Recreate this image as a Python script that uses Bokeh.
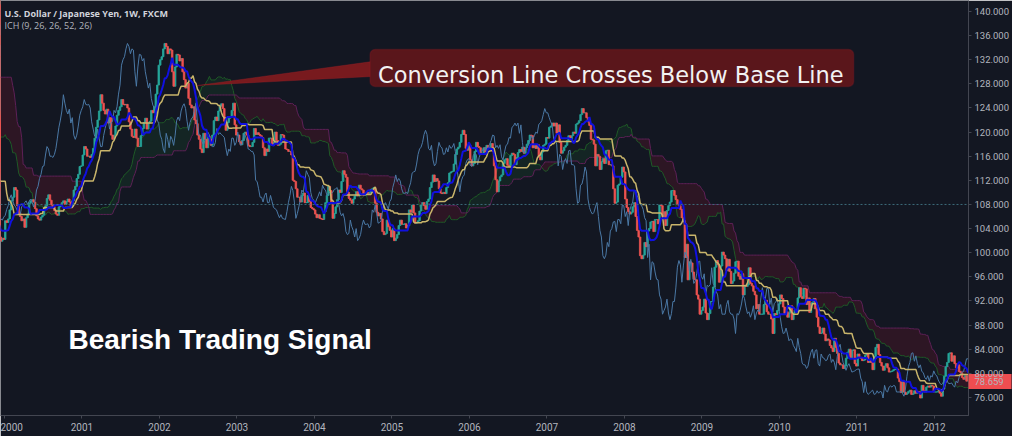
import numpy as np
import pandas as pd
from bokeh.plotting import figure
from bokeh.models import (Range1d, FixedTicker, NumeralTickFormatter, Label,
                          BoxAnnotation, PolyAnnotation, Span)
from bokeh.embed import file_html
from bokeh.resources import INLINE

# ---------------- data: weekly closes USD/JPY ----------------
c1998 = [139.5, 141.0, 137.8, 140.0, 140.6, 141.2, 140.5, 142.5, 144.0, 145.2, 146.8, 145.0, 142.5,
         138.5, 134.5, 134.6, 136.0, 132.5, 120.2, 117.0, 116.3, 116.0, 119.6, 120.8, 121.4, 122.8,
         118.6, 117.2, 116.4, 113.5]
c1999 = [113.0, 111.4, 113.9, 113.5, 116.0, 115.0, 116.5, 120.4, 119.8, 121.5, 119.3, 120.0, 119.6,
         119.8, 119.0, 120.2, 119.3, 119.8, 122.0, 122.4, 123.5, 121.5, 120.8, 118.3, 120.8, 121.5,
         121.2, 121.8, 117.8, 115.2, 115.5, 114.5, 113.3, 110.5, 110.8, 110.3, 107.5, 105.8, 106.2,
         107.2, 106.8, 105.6, 104.6, 104.9, 105.0, 104.6, 105.4, 102.2, 102.5, 102.6, 101.9, 102.4, 102.2]
c2000 = [105.3, 105.0, 105.6, 107.1, 108.6, 109.2, 110.8, 110.4, 107.8, 106.6, 106.0, 105.3, 105.6,
         104.2, 105.8, 106.4, 108.2, 108.6, 108.8, 108.4, 107.3, 106.1, 105.6, 105.4, 105.9, 106.2,
         107.2, 107.8, 109.0, 109.6, 108.7, 107.9, 107.6, 107.0, 106.4, 106.2, 107.6, 107.9, 108.3,
         108.6, 108.0, 108.5, 108.9, 108.4, 107.6, 108.6, 110.4, 111.0, 112.3, 113.0, 114.3, 114.4]
c2001 = [116.2, 117.6, 117.2, 116.0, 116.0, 115.8, 116.3, 117.3, 119.0, 120.8, 122.0, 123.5, 126.2,
         124.8, 123.6, 123.0, 123.8, 121.5, 122.4, 119.5, 118.8, 119.5, 121.0, 122.8, 123.6, 124.2,
         125.4, 124.6, 124.5, 124.6, 124.0, 121.7, 120.5, 119.3, 119.1, 120.5, 119.0, 117.6, 117.6,
         119.4, 120.6, 121.6, 122.3, 120.5, 121.5, 121.8, 123.6, 123.2, 124.2, 126.3, 127.8, 131.1]
c2002 = [132.0, 132.5, 133.8, 134.7, 134.2, 133.0, 133.8, 133.6, 130.0, 127.6, 130.8, 132.9, 132.8,
         131.8, 132.2, 130.0, 128.7, 127.3, 128.1, 125.6, 124.5, 124.0, 124.2, 122.0, 121.4, 119.5,
         118.8, 117.2, 116.6, 119.8, 118.8, 117.4, 119.3, 118.8, 117.8, 119.5, 121.9, 122.5, 121.9,
         123.5, 124.3, 124.7, 123.9, 121.8, 120.3, 121.6, 122.3, 122.5, 123.6, 124.8, 121.2, 119.5]
c2003 = [119.5, 118.4, 117.9, 118.6, 119.8, 120.0, 119.5, 117.8, 117.6, 117.6, 118.3, 120.6, 119.6,
         119.9, 119.6, 119.4, 119.1, 117.4, 116.1, 117.2, 116.8, 119.0, 119.0, 117.8, 118.3, 120.0,
         118.6, 117.8, 118.0, 119.6, 119.5, 118.7, 117.2, 117.1, 116.8, 116.8, 116.2, 112.0, 111.8,
         110.6, 109.2, 109.2, 108.4, 109.5, 109.9, 108.3, 108.3, 109.5, 108.5, 107.5, 107.3, 107.1]
c2004 = [106.4, 105.8, 106.3, 105.7, 105.6, 105.5, 106.8, 108.3, 109.5, 111.0, 110.3, 108.4, 105.7,
         106.5, 107.6, 108.8, 110.4, 110.0, 111.8, 113.6, 113.0, 112.5, 110.0, 109.0, 108.7, 108.2,
         108.9, 109.4, 110.1, 109.4, 111.2, 110.6, 110.4, 109.5, 109.8, 110.0, 109.8, 110.0, 110.5,
         110.6, 110.8, 108.2, 106.7, 106.1, 106.5, 105.6, 103.5, 103.0, 103.2, 105.4, 104.3, 103.7, 102.6]
c2005 = [104.0, 102.0, 102.4, 103.0, 104.5, 105.4, 104.7, 104.7, 104.8, 104.1, 104.5, 107.1, 106.7,
         107.9, 106.6, 104.9, 105.0, 105.3, 106.9, 107.9, 108.3, 107.8, 107.2, 108.5, 108.9, 110.8,
         111.7, 112.9, 111.8, 112.3, 111.9, 110.6, 109.9, 109.8, 110.0, 109.8, 110.8, 111.6, 113.2,
         113.4, 113.5, 114.7, 116.3, 117.2, 117.5, 118.3, 119.6, 120.3, 119.6, 117.3, 117.0, 117.8]
c2006 = [115.4, 114.4, 114.8, 116.8, 118.3, 117.6, 117.4, 116.3, 116.4, 117.4, 116.7, 117.8, 117.3,
         117.5, 118.1, 116.8, 114.4, 112.1, 110.1, 111.9, 112.6, 112.9, 114.8, 115.4, 115.6, 114.5,
         114.3, 116.1, 116.5, 116.3, 114.6, 115.8, 116.6, 117.1, 116.8, 117.5, 116.5, 117.4, 118.0,
         118.6, 119.5, 119.4, 117.4, 117.8, 117.3, 117.9, 115.9, 115.4, 116.7, 117.8, 118.0, 119.1]
c2007 = [119.0, 120.8, 121.0, 121.5, 121.0, 121.5, 119.8, 121.2, 118.3, 116.5, 116.9, 117.5, 117.8,
         118.6, 119.4, 118.8, 119.4, 120.0, 119.8, 121.3, 121.5, 121.9, 122.9, 123.9, 123.2, 123.2,
         122.4, 121.7, 121.1, 118.8, 118.7, 118.0, 114.4, 116.3, 116.0, 113.8, 115.1, 115.6, 114.8,
         116.9, 117.0, 114.6, 114.6, 114.4, 110.6, 108.2, 108.4, 111.2, 111.4, 112.5, 114.2, 113.4]
c2008 = [108.9, 107.5, 106.8, 106.4, 106.7, 107.6, 108.3, 106.0, 103.7, 102.6, 99.5, 99.0, 99.6,
         101.7, 101.0, 103.6, 104.0, 105.1, 105.2, 103.5, 105.5, 105.5, 104.8, 107.9, 107.8, 106.0,
         106.8, 104.5, 107.0, 107.8, 108.4, 110.3, 110.3, 109.5, 108.8, 108.0, 107.8, 107.2, 105.8,
         105.3, 99.2, 101.4, 95.5, 98.5, 98.3, 96.8, 95.6, 95.5, 93.0, 92.3, 89.8, 90.4]
c2009 = [91.0, 92.3, 90.0, 88.9, 89.9, 91.9, 91.9, 94.3, 97.6, 98.7, 98.0, 95.1, 97.8,
         100.1, 99.6, 99.0, 97.0, 98.9, 96.9, 94.9, 95.3, 96.6, 98.5, 98.6, 96.1, 95.6,
         96.5, 93.0, 94.6, 94.4, 94.7, 97.5, 94.9, 94.5, 93.6, 93.0, 90.7, 91.4, 89.8,
         89.8, 89.8, 91.4, 92.1, 90.2, 89.8, 89.8, 89.0, 86.6, 89.9, 89.7, 90.4, 91.5]
c2010 = [93.0, 92.4, 91.0, 89.9, 90.2, 89.3, 90.0, 91.2, 88.9, 90.0, 90.5, 90.2, 92.5,
         94.2, 92.7, 92.4, 94.1, 94.0, 91.4, 92.5, 90.1, 91.6, 91.8, 92.4, 90.7, 89.3,
         87.7, 86.6, 86.7, 87.5, 86.5, 85.4, 85.7, 85.5, 84.6, 84.2, 83.6, 85.8, 84.3,
         83.3, 81.7, 81.4, 81.4, 80.8, 81.2, 82.5, 83.5, 84.0, 82.5, 83.8, 83.9, 81.6, 81.2]
c2011 = [83.2, 82.6, 82.5, 82.1, 82.2, 83.0, 83.2, 81.8, 82.3, 81.8, 80.6, 82.8, 84.3,
         84.8, 83.1, 81.8, 81.2, 80.5, 81.2, 81.6, 80.9, 80.2, 80.3, 80.4, 80.6, 80.7,
         80.7, 79.2, 78.6, 76.8, 78.6, 76.9, 76.5, 76.7, 77.0, 77.2, 76.5, 76.6, 77.1,
         76.7, 77.0, 76.9, 75.9, 78.0, 77.1, 76.9, 77.7, 77.9, 77.7, 78.0, 77.9, 76.9]
c2012 = [76.9, 76.9, 77.0, 76.7, 76.2, 77.4, 79.5, 81.1, 81.8, 83.3, 83.4, 82.0, 82.9,
         81.6, 80.9, 81.4, 80.3, 80.1, 79.3, 79.0, 79.6, 78.7, 79.6, 79.4, 80.4, 79.8,
         79.6, 78.9, 78.4, 78.1, 78.3, 78.9, 78.8, 78.7, 78.3, 78.3, 78.4, 78.0, 77.7,
         78.7, 78.4, 79.3, 79.8, 80.2, 80.3, 81.3, 82.4, 82.4, 82.4, 83.4, 84.3, 85.4]

years = list(range(1998, 2013))
series = [c1998, c1999, c2000, c2001, c2002, c2003, c2004, c2005, c2006, c2007,
          c2008, c2009, c2010, c2011, c2012]
year_ticks = list(range(2000, 2013))
price_ticks = list(range(76, 141, 4))
last_price = 78.659
ich_params = (9, 26, 26, 52, 26)

# ---------------- build bars ----------------
xs, cs = [], []
for yr, arr in zip(years, series):
    n = len(arr)
    for k, v in enumerate(arr):
        if yr == 1998:
            xs.append(1999 - (n - k - 0.5) / 52.0)
        else:
            xs.append(yr + (k + 0.5) / n)
        cs.append(v)
x = np.array(xs)
close = np.array(cs)
openp = np.r_[close[0], close[:-1]]
hi = np.maximum(openp, close)
lo = np.minimum(openp, close)
H = pd.Series(hi)
L = pd.Series(lo)


def mid(n):
    return ((H.rolling(n).max() + L.rolling(n).min()) / 2).to_numpy()


tenkan = mid(ich_params[0])
kijun = mid(ich_params[1])
spanB = mid(ich_params[3])
spanA = (tenkan + kijun) / 2
off = ich_params[4] - 1
N = len(close)
xa = x[off:]
A = spanA[:N - off]
B = spanB[:N - off]
ok = ~np.isnan(B) & ~np.isnan(A)
xa, A, B = xa[ok], A[ok], B[ok]
xl = x[:N - off]
lag = close[off:]


# reference pixel -> data helpers (used only for placing annotations)
def X(px):
    return 2000 + (px - 12) / 77.58


def Y(py):
    return 140 - (py - 19) / 6.03


BG = "#131722"
TXT = "#b2b5be"
TAG = "#ef4d50"

p = figure(width=1012, height=436, output_backend="svg", toolbar_location=None,
           x_range=Range1d(X(8), X(977)), y_range=Range1d(Y(423), Y(8)),
           y_axis_location="right", background_fill_color=BG, border_fill_color=BG,
           min_border_left=0, min_border_top=0, min_border_right=43, min_border_bottom=21)
p.outline_line_color = None
p.xgrid.visible = False
p.ygrid.visible = False

# cloud
p.varea(x=xa, y1=B, y2=np.where(A > B, A, B), fill_color="#1e7d32", fill_alpha=0.14)
p.varea(x=xa, y1=A, y2=np.where(B > A, B, A), fill_color="#a0162e", fill_alpha=0.19)
p.line(xa, A, line_color="#1f5a27", line_width=1)
p.line(xa, B, line_color="#5e2157", line_width=1)

# candles
w = 1.0 / 52
up = close >= openp
dn = ~up
p.vbar(x=x[up], top=close[up], bottom=openp[up], width=w,
       fill_color="#26a69a", line_color="#26a69a", line_width=0.8)
p.vbar(x=x[dn], top=openp[dn], bottom=close[dn], width=w,
       fill_color="#ef5350", line_color="#ef5350", line_width=0.8)

# lines
p.line(xl, lag, line_color="#4b79a6", line_width=1)
p.line(x, kijun, line_color="#c9b56b", line_width=1.5)
p.line(x, tenkan, line_color="#1010e0", line_width=2)

p.add_layout(Span(location=108.0, dimension="width", line_color="#3d6b7b",
                  line_dash="2 2", line_width=1))

# axes
xa_ = p.xaxis[0]
xa_.ticker = FixedTicker(ticks=year_ticks)
ya_ = p.yaxis[0]
# last-price tag: an extra labelled tick, with a wide red minor tick as its badge
ya_.ticker = FixedTicker(ticks=sorted(price_ticks + [last_price]), minor_ticks=[last_price])
ya_.formatter = NumeralTickFormatter(format="0.000")
for ax in (xa_, ya_):
    ax.axis_line_color = "#434651"
    ax.major_tick_line_color = "#434651"
    ax.major_tick_in = 0
    ax.major_tick_out = 3
    ax.major_label_text_color = TXT
    ax.major_label_text_font = "Roboto"
xa_.minor_tick_line_color = None
ya_.minor_tick_line_color = TAG
ya_.minor_tick_line_width = 15
ya_.minor_tick_line_cap = "butt"
ya_.minor_tick_in = -43
ya_.minor_tick_out = 0
ya_.major_label_text_font_size = "9.5px"
ya_.major_label_standoff = 3
xa_.major_label_text_font_size = "10px"
xa_.major_label_standoff = 4

# titles
p.add_layout(Label(x=X(12), y=Y(20.7), text="U.S. Dollar / Japanese Yen, 1W, FXCM",
                   text_font="Open Sans", text_font_style="bold", text_font_size="9px",
                   text_color="#d1d4dc", text_baseline="alphabetic"))
p.add_layout(Label(x=X(12), y=Y(33.3), text="ICH (%d, %d, %d, %d, %d)" % ich_params,
                   text_font="Open Sans", text_font_size="9px",
                   text_color=TXT, text_baseline="alphabetic"))

# callout
p.add_layout(PolyAnnotation(xs=[X(205), X(380), X(380)], ys=[Y(93), Y(69), Y(84)],
                            fill_color="#7d1a1f", fill_alpha=0.95,
                            line_color="#b3252b", line_width=1))
p.add_layout(BoxAnnotation(left=X(378), right=X(862), top=Y(57), bottom=Y(94),
                           fill_color="#5a161b", fill_alpha=1.0,
                           line_color="#8e1c24", line_width=1.5, border_radius=5))
p.add_layout(Label(x=X(386), y=Y(82.3), text="Conversion Line Crosses Below Base Line",
                   text_font="DejaVu Sans", text_font_size="22.5px",
                   text_color="#f2f2f2", text_baseline="alphabetic"))

p.add_layout(Label(x=X(76), y=Y(347), text="Bearish Trading Signal",
                   text_font="Liberation Sans", text_font_style="bold",
                   text_font_size="28px", text_color="#ffffff", text_baseline="alphabetic"))

open("out.html", "w").write(file_html(p, INLINE))
